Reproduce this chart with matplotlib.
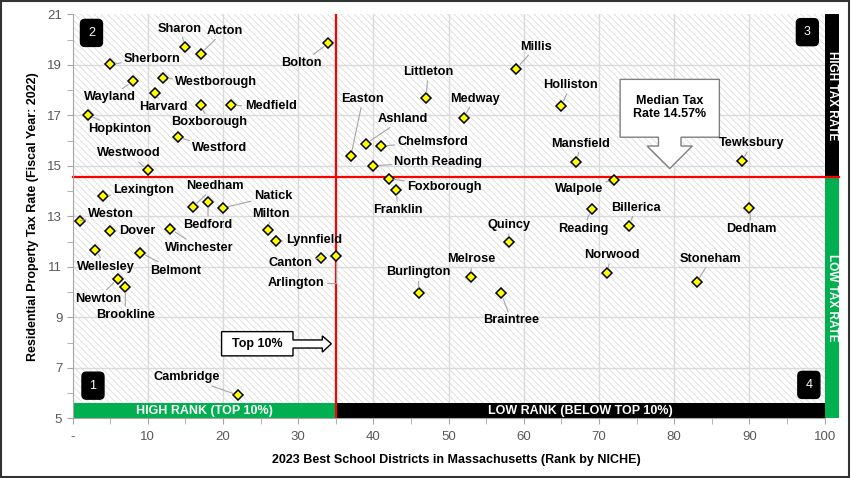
import matplotlib
matplotlib.use("Agg")
import matplotlib.pyplot as plt
from matplotlib.patches import Rectangle, Polygon
import numpy as np

# School rank (NICHE 2023) and residential tax rate (FY2022)
towns = ["Sharon", "Acton", "Sherborn", "Westborough", "Wayland", "Harvard",
         "Boxborough", "Medfield", "Hopkinton", "Westford", "Westwood", "Bolton",
         "Millis", "Littleton", "Holliston", "Easton", "Medway", "Ashland",
         "Chelmsford", "North Reading", "Mansfield", "Foxborough", "Franklin",
         "Walpole", "Tewksbury", "Reading", "Billerica", "Dedham", "Quincy",
         "Melrose", "Burlington", "Braintree", "Norwood", "Stoneham", "Lexington",
         "Weston", "Dover", "Needham", "Bedford", "Natick", "Milton", "Lynnfield",
         "Canton", "Arlington", "Winchester", "Wellesley", "Belmont", "Newton",
         "Brookline", "Cambridge"]
ranks = [15, 17, 5, 12, 8, 11,
         17, 21, 2, 14, 10, 34,
         59, 47, 65, 37, 52, 39,
         41, 40, 67, 42, 43,
         72, 89, 69, 74, 90, 58,
         53, 46, 57, 71, 83, 4,
         1, 5, 16, 18, 20, 26, 27,
         33, 35, 13, 3, 9, 6,
         7, 22]
tax_rates = [19.73, 19.45, 19.03, 18.48, 18.35, 17.90,
             17.40, 17.40, 17.02, 16.13, 14.83, 19.86,
             18.86, 17.69, 17.37, 15.40, 16.92, 15.88,
             15.79, 15.01, 15.17, 14.50, 14.06,
             14.45, 15.19, 13.31, 12.64, 13.34, 11.99,
             10.59, 9.95, 9.95, 10.76, 10.40, 13.80,
             12.83, 12.44, 13.38, 13.59, 13.34, 12.48, 12.02,
             11.36, 11.42, 12.51, 11.69, 11.57, 10.54,
             10.21, 5.92]

median_tax = 14.57
top_cut = 35

# label offsets in pixels (dx, dy) from the point
label_offsets = {
    "Sharon": (-6, 18), "Acton": (24, 23), "Sherborn": (42, 5),
    "Westborough": (53, -4), "Wayland": (-23, -16), "Harvard": (8, -14),
    "Boxborough": (9, -17), "Medfield": (40, -1), "Hopkinton": (32, -14),
    "Westford": (42, -11), "Westwood": (-19, 17), "Bolton": (-27, -20),
    "Millis": (20, 22), "Littleton": (2, 26), "Holliston": (9, 21),
    "Easton": (12, 57), "Medway": (11, 19), "Ashland": (37, 25),
    "Chelmsford": (52, 4), "North Reading": (65, 4), "Mansfield": (4, 18),
    "Foxborough": (56, -8), "Franklin": (2, -20), "Walpole": (-35, -9),
    "Tewksbury": (10, 18), "Reading": (-8, -20), "Billerica": (7, 18),
    "Dedham": (2, -21), "Quincy": (0, 17), "Melrose": (0, 18),
    "Burlington": (0, 21), "Braintree": (10, -27), "Norwood": (5, 18),
    "Stoneham": (14, 23), "Lexington": (41, 6), "Weston": (31, 7),
    "Dover": (27, 0), "Needham": (22, 21), "Bedford": (0, -23),
    "Natick": (50, 12), "Milton": (3, 16), "Lynnfield": (38, 1),
    "Canton": (-30, -5), "Arlington": (-40, -27), "Winchester": (29, -19),
    "Wellesley": (11, -17), "Belmont": (35, -18), "Newton": (-20, -20),
    "Brookline": (0, -28), "Cambridge": (-51, 18),
}

GREEN = "#00B050"
RED = "#FF0000"
GRAY = "#595959"


def draw_background(ax):
    """Hatched plot area, grid lines and the quadrant dividers."""
    ax.add_patch(Rectangle((0, 5), 100, 16, facecolor="white", edgecolor="#dcdcdc",
                           hatch="\\\\\\\\\\", linewidth=0, zorder=0))
    for x in range(10, 100, 10):
        ax.plot([x, x], [5, 21], color="#dadada", lw=1, zorder=1)
    for y in range(7, 21, 2):
        ax.plot([0, 100], [y, y], color="#dadada", lw=1, zorder=1)

    # bands along the bottom and the right edge
    ax.add_patch(Rectangle((0, 5), top_cut, 0.6, color=GREEN, lw=0, zorder=3))
    ax.add_patch(Rectangle((top_cut, 5), 100 - top_cut, 0.6, color="black", lw=0, zorder=3))
    ax.add_patch(Rectangle((100, median_tax), 1.95, 21 - median_tax, color="black",
                           lw=0, zorder=3, clip_on=False))
    ax.add_patch(Rectangle((100, 5), 1.95, median_tax - 5, color=GREEN,
                           lw=0, zorder=3, clip_on=False))
    ax.text(top_cut / 2, 5.3, "HIGH RANK (TOP 10%)", color="white", fontsize=9,
            fontweight="bold", ha="center", va="center", zorder=4)
    ax.text((100 + top_cut) / 2, 5.3, "LOW RANK (BELOW TOP 10%)", color="white",
            fontsize=9, fontweight="bold", ha="center", va="center", zorder=4)
    ax.text(100.97, (21 + median_tax) / 2, "HIGH TAX RATE", color="white", fontsize=8.5,
            fontweight="bold", ha="center", va="center", rotation=270, zorder=4)
    ax.text(100.97, (5 + median_tax) / 2, "LOW TAX RATE", color="white", fontsize=8.5,
            fontweight="bold", ha="center", va="center", rotation=270, zorder=4)

    ax.plot([top_cut, top_cut], [5, 21], color=RED, lw=1.6, zorder=4)
    ax.plot([0, 101.95], [median_tax, median_tax], color=RED, lw=1.6, zorder=4,
            clip_on=False)


def draw_callouts(ax):
    """Median tax arrow box, Top 10% arrow box and quadrant numbers."""
    t = median_tax
    median_box = [(72.8, 18.43), (86.0, 18.43), (86.0, 16.14), (80.9, 16.14),
                  (80.9, 15.79), (82.4, 15.79), (79.4, t + 0.33), (76.4, 15.79),
                  (77.9, 15.79), (77.9, 16.14), (72.8, 16.14)]
    ax.add_patch(Polygon(median_box, closed=True, facecolor="white",
                         edgecolor="#7f7f7f", lw=1, zorder=6))
    ax.text(79.4, 17.3, "Median Tax\nRate 14.57%", fontsize=9, fontweight="bold",
            ha="center", va="center", linespacing=1.1, zorder=7)

    top_box = [(19.8, 8.44), (29.3, 8.44), (29.3, 8.11), (33.2, 8.11), (33.2, 8.27),
               (34.4, 7.96), (33.2, 7.63), (33.2, 7.79), (29.3, 7.79), (29.3, 7.48),
               (19.8, 7.48)]
    ax.add_patch(Polygon(top_box, closed=True, facecolor="white",
                         edgecolor="black", lw=1, zorder=6))
    ax.text(24.55, 7.96, "Top 10%", fontsize=9, fontweight="bold",
            ha="center", va="center", zorder=7)

    for num, x, y in [("1", 2.7, 6.3), ("2", 2.5, 20.27), ("3", 97.7, 20.3), ("4", 97.9, 6.33)]:
        ax.text(x, y, num, color="white", fontsize=9, ha="center", va="center", zorder=7,
                bbox=dict(boxstyle="round,pad=0.6,rounding_size=0.35",
                          facecolor="black", edgecolor="black"))


def draw_points(ax):
    """Yellow diamonds with their town labels and leader lines."""
    ax.plot(ranks, tax_rates, linestyle="none", marker="D", markersize=5.5,
            markerfacecolor="#FFFF00", markeredgecolor="black", markeredgewidth=1.1,
            zorder=8, clip_on=False)
    for town, x, y in zip(towns, ranks, tax_rates):
        dx, dy = label_offsets[town]
        conn = "arc3"
        if town == "Arlington":
            conn = "angle,angleA=0,angleB=90,rad=0"
        ax.annotate(town, xy=(x, y), xytext=(dx, dy), textcoords="offset pixels",
                    fontsize=9.2, fontweight="bold", ha="center", va="center", zorder=9,
                    arrowprops=dict(arrowstyle="-", color="#a6a6a6", lw=0.8,
                                    shrinkA=0, shrinkB=4, connectionstyle=conn))


def main():
    plt.rcParams['font.family'] = ['Liberation Sans', 'DejaVu Sans']
    plt.rcParams['hatch.linewidth'] = 0.6
    fig = plt.figure(figsize=(8.51, 4.78), dpi=100)
    ax = fig.add_axes([0.0854, 0.1245, 0.9013, 0.8452])
    ax.set_xlim(0, 102)
    ax.set_ylim(5, 21)

    draw_background(ax)
    draw_callouts(ax)
    draw_points(ax)

    # axes and ticks
    for side in ["top", "right"]:
        ax.spines[side].set_visible(False)
    for side in ["left", "bottom"]:
        ax.spines[side].set_color("#a6a6a6")
        ax.spines[side].set_zorder(5)
    ax.spines["bottom"].set_bounds(0, 100)
    ax.set_xticks(np.arange(0, 101, 10))
    ax.set_xticklabels(["-"] + [str(v) for v in range(10, 101, 10)])
    ax.set_xticks(np.arange(5, 100, 10), minor=True)
    ax.set_yticks(np.arange(5, 22, 2))
    ax.set_yticks(np.arange(6, 21, 2), minor=True)
    ax.tick_params(which="both", direction="out", length=4, color="#a6a6a6")
    ax.tick_params(axis="both", labelsize=9.5, labelcolor=GRAY)
    ax.tick_params(axis="x", pad=5)

    ax.set_xlabel("2023 Best School Districts in Massachusetts (Rank by NICHE)",
                  fontsize=9, fontweight="bold", labelpad=8)
    ax.set_ylabel("Residential Property Tax Rate (Fiscal Year: 2022)",
                  fontsize=9, fontweight="bold", labelpad=6)

    # dark frame round the picture
    fig.patches.append(Rectangle((0.001, 0.002), 0.997, 0.995, transform=fig.transFigure,
                                 fill=False, edgecolor="#333333", lw=1.5))

    fig.savefig("out.png", dpi=100)
    plt.close(fig)


if __name__ == "__main__":
    main()
